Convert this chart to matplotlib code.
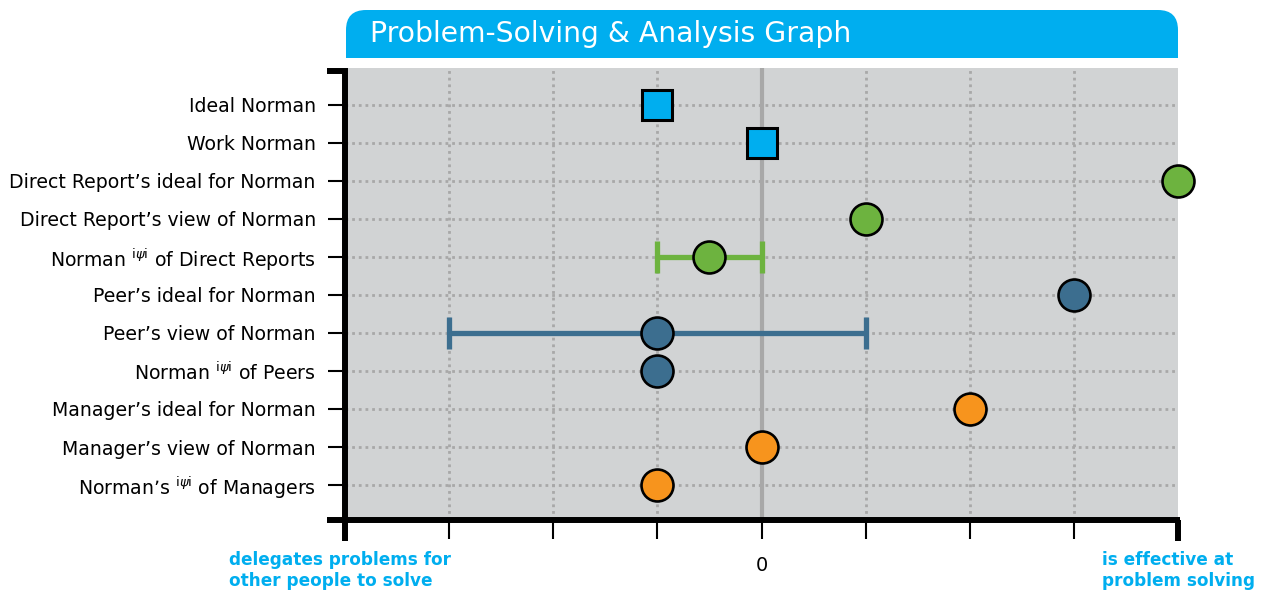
import matplotlib
matplotlib.use("Agg")
import matplotlib.pyplot as plt
from matplotlib.patches import FancyBboxPatch, Rectangle
from matplotlib.lines import Line2D

plt.rcParams['font.family'] = ['DejaVu Sans']

# ---- data ----
sup = "$^{\\mathrm{i}\\psi\\mathrm{i}}$"
labels = [
    "Ideal Norman",
    "Work Norman",
    "Direct Report\u2019s ideal for Norman",
    "Direct Report\u2019s view of Norman",
    "Norman " + sup + " of Direct Reports",
    "Peer\u2019s ideal for Norman",
    "Peer\u2019s view of Norman",
    "Norman " + sup + " of Peers",
    "Manager\u2019s ideal for Norman",
    "Manager\u2019s view of Norman",
    "Norman\u2019s " + sup + " of Managers",
]
values = [-1, 0, 4, 1, -0.5, 3, -1, -1, 2, 0, -1]
markers = ["s", "s", "o", "o", "o", "o", "o", "o", "o", "o", "o"]
groups = ["self", "self", "dr", "dr", "dr", "peer", "peer", "peer", "mgr", "mgr", "mgr"]
# error ranges (row index, low, high)
err_rows = [4, 6]
err_low = [-1, -3]
err_high = [0, 1]

colors = {"self": "#00AEEF", "dr": "#6DB33F", "peer": "#3C6E8F", "mgr": "#F7941D"}
title = "Problem-Solving & Analysis Graph"
left_note = "delegates problems for\nother people to solve"
right_note = "is effective at\nproblem solving"
xticks = [-4, -3, -2, -1, 0, 1, 2, 3, 4]
xticklabels = ["", "", "", "", "0", "", "", "", ""]

W, H = 1273, 592
fig = plt.figure(figsize=(W / 100, H / 100), dpi=100)

# background overlay in pixel units
bg = fig.add_axes([0, 0, 1, 1], zorder=-1)
bg.set_xlim(0, W)
bg.set_ylim(H, 0)
bg.axis("off")
bg.add_patch(FancyBboxPatch((346, 10), 832, 48, boxstyle="round,pad=0,rounding_size=20",
                            facecolor="#00AEEF", edgecolor="none"))
bg.add_patch(Rectangle((346, 34), 832, 24, facecolor="#00AEEF", edgecolor="none"))
bg.text(370, 34, title, color="white", fontsize=20.3, va="center", ha="left")

ax_l, ax_r, ax_t, ax_b = 345, 1178, 68, 520
ax = fig.add_axes([ax_l / W, (H - ax_b) / H, (ax_r - ax_l) / W, (ax_b - ax_t) / H])
ax.set_facecolor("#D1D3D4")
n = len(labels)
ax.set_xlim(-4, 4)
ax.set_ylim(10.92, -0.97)

# grid
for xv in [-3, -2, -1, 1, 2, 3]:
    ax.axvline(xv, color="#A8A8A8", lw=2, linestyle=(0, (1, 1.4)), zorder=1)
for i in range(n):
    ax.axhline(i, color="#A8A8A8", lw=2, linestyle=(0, (1, 1.4)), zorder=1)
ax.axvline(0, color="#A8A8A8", lw=3, zorder=1)

# error bars
for r, lo, hi in zip(err_rows, err_low, err_high):
    c = colors[groups[r]]
    ax.plot([lo, hi], [r, r], color=c, lw=3.8, solid_capstyle="butt", zorder=2)
    ax.plot([lo, hi], [r, r], linestyle="none", marker="|", markersize=23,
            markeredgewidth=3.8, color=c, zorder=2)

# markers
for i, (v, m, g) in enumerate(zip(values, markers, groups)):
    ax.plot(v, i, marker=m, markersize=21.5 if m == "s" else 23,
            markerfacecolor=colors[g], markeredgecolor="black",
            markeredgewidth=2.2 if m == "s" else 1.9,
            linestyle="none", zorder=3, clip_on=False)

# axes styling
for s in ax.spines.values():
    s.set_visible(False)
ax.set_xticks(xticks)
ax.set_xticklabels(xticklabels, fontsize=14)
ax.set_yticks(range(n))
ax.set_yticklabels(labels, fontsize=13.6)
ax.tick_params(axis="x", direction="out", length=14, width=1.5, color="black", pad=12)
ax.tick_params(axis="y", direction="out", length=12, width=1.5, color="black", pad=9)

# thick frame lines with end hooks (in axes fraction)
aw, ah = ax_r - ax_l, ax_b - ax_t
ext_x = 18 / aw
ext_y = 21 / ah
lw_f = 4.3
kw = dict(transform=ax.transAxes, clip_on=False, color="black", lw=lw_f, solid_capstyle="butt")
ax.add_line(Line2D([0, 0], [1 - 2 / ah, -ext_y], **kw))          # left spine
ax.add_line(Line2D([-ext_x, 1 + 2 / aw], [0, 0], **kw))           # bottom spine
ax.add_line(Line2D([-ext_x, 3 / aw], [1 - 3 / ah, 1 - 3 / ah], **kw))  # top hook
ax.add_line(Line2D([1, 1], [0, -ext_y], **kw))                    # right end tick

# bottom notes
bg.text(229, 551, left_note, color="#00AEEF", fontsize=12.2, fontweight="bold",
        ha="left", va="top", linespacing=1.2)
bg.text(1102, 551, right_note, color="#00AEEF", fontsize=12.2, fontweight="bold",
        ha="left", va="top", linespacing=1.2)

fig.savefig("out.png", dpi=100)
